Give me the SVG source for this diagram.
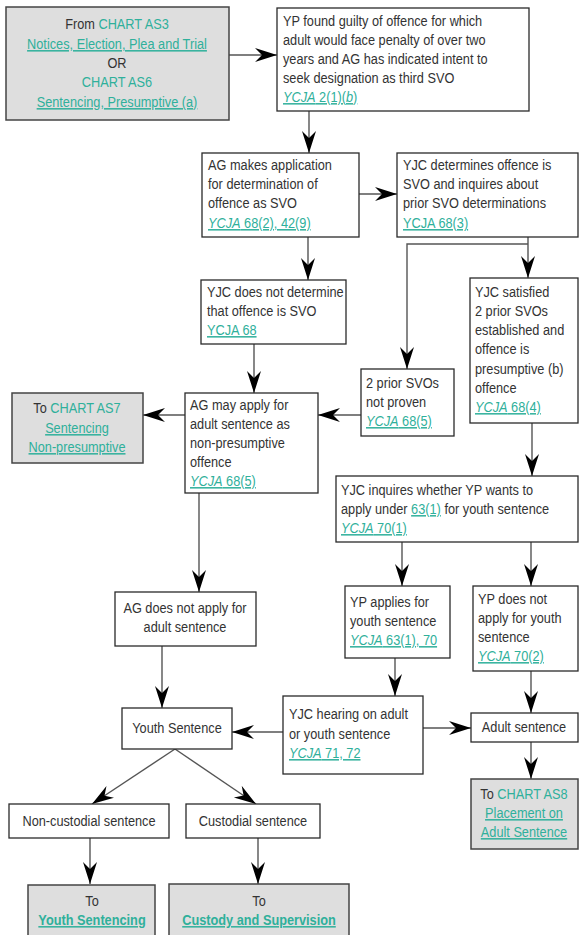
<svg xmlns="http://www.w3.org/2000/svg" width="581" height="935" viewBox="0 0 581 935">
<style>
text{font-family:"Liberation Sans",Arial,sans-serif;font-size:15px;fill:#333;}
.c{text-anchor:middle;}
.l{fill:#2fb09b;}
.u{fill:#2fb09b;text-decoration:underline;}
.i{font-style:italic;}
.b{font-weight:bold;}
.box{fill:#fff;stroke:#2a2a2a;stroke-width:1.3;}
.gbox{fill:#dedede;stroke:#444;stroke-width:1.5;}
.con path{fill:none;stroke:#555;stroke-width:1.4;marker-end:url(#ah);}
</style>
<defs>
<marker id="ah" markerUnits="userSpaceOnUse" markerWidth="24" markerHeight="16" refX="22" refY="7" orient="auto">
<path d="M22,7 L0,0 L7,7 L0,14 Z" fill="#000"/>
</marker>
</defs>
<rect width="581" height="935" fill="#fff"/>
<g class="con">
<path d="M229,55 H277"/>
<path d="M309,111 V153"/>
<path d="M359,194 H397"/>
<path d="M308,237 V280"/>
<path d="M528,237 V278"/>
<path d="M528,244 H407 V369"/>
<path d="M254,344 V393"/>
<path d="M185,415 H143"/>
<path d="M361,415 H318"/>
<path d="M532,423 V476"/>
<path d="M199,493 V592"/>
<path d="M402,542 V586"/>
<path d="M531,542 V586"/>
<path d="M162,646 V708"/>
<path d="M395,658 V696"/>
<path d="M531,671 V713"/>
<path d="M283,732 H232"/>
<path d="M423,728 H471"/>
<path d="M531,742 V779"/>
<path d="M175,749 L92,804"/>
<path d="M175,749 L256,804"/>
<path d="M90,838 V884"/>
<path d="M258,838 V884"/>
</g>
<g id="from-as3">
<rect class="gbox" x="6" y="7" width="223" height="113"/>
<g transform="translate(117 0) scale(.85 1)">
<text class="c" x="0" y="29">From <tspan class="l">CHART AS3</tspan></text>
<text class="c" x="0" y="49"><tspan class="u">Notices, Election, Plea and Trial</tspan></text>
<text class="c" x="0" y="68">OR</text>
<text class="c" x="0" y="87"><tspan class="l">CHART AS6</tspan></text>
<text class="c" x="0" y="107"><tspan class="u">Sentencing, Presumptive (a)</tspan></text>
</g>
</g>
<g id="yp-found-guilty">
<rect class="box" x="277" y="8" width="252" height="103"/>
<g transform="translate(283 0) scale(.85 1)">
<text x="0" y="26">YP found guilty of offence for which</text>
<text x="0" y="45">adult would face penalty of over two</text>
<text x="0" y="64">years and AG has indicated intent to</text>
<text x="0" y="83">seek designation as third SVO</text>
<text x="0" y="102"><tspan class="u"><tspan class="i">YCJA</tspan> 2(1)(<tspan class="i">b</tspan>)</tspan></text>
</g>
</g>
<g id="ag-makes-application">
<rect class="box" x="202" y="153" width="157" height="84"/>
<g transform="translate(208 0) scale(.85 1)">
<text x="0" y="170">AG makes application</text>
<text x="0" y="189">for determination of</text>
<text x="0" y="208">offence as SVO</text>
<text x="0" y="228"><tspan class="u"><tspan class="i">YCJA</tspan> 68(2), 42(9)</tspan></text>
</g>
</g>
<g id="yjc-determines">
<rect class="box" x="397" y="153" width="181" height="84"/>
<g transform="translate(403 0) scale(.85 1)">
<text x="0" y="170">YJC determines offence is</text>
<text x="0" y="189">SVO and inquires about</text>
<text x="0" y="208">prior SVO determinations</text>
<text x="0" y="228"><tspan class="u">YCJA 68(3)</tspan></text>
</g>
</g>
<g id="yjc-does-not-determine">
<rect class="box" x="201" y="280" width="145" height="64"/>
<g transform="translate(207 0) scale(.85 1)">
<text x="0" y="297">YJC does not determine</text>
<text x="0" y="316">that offence is SVO</text>
<text x="0" y="335"><tspan class="u">YCJA 68</tspan></text>
</g>
</g>
<g id="to-as7">
<rect class="gbox" x="12" y="393" width="131" height="70"/>
<g transform="translate(77 0) scale(.85 1)">
<text class="c" x="0" y="413">To <tspan class="l">CHART AS7</tspan></text>
<text class="c" x="0" y="433"><tspan class="u">Sentencing</tspan></text>
<text class="c" x="0" y="452"><tspan class="u">Non-presumptive</tspan></text>
</g>
</g>
<g id="ag-may-apply">
<rect class="box" x="185" y="393" width="133" height="100"/>
<g transform="translate(190 0) scale(.85 1)">
<text x="0" y="410">AG may apply for</text>
<text x="0" y="429">adult sentence as</text>
<text x="0" y="448">non-presumptive</text>
<text x="0" y="467">offence</text>
<text x="0" y="486"><tspan class="u"><tspan class="i">YCJA</tspan> 68(5)</tspan></text>
</g>
</g>
<g id="prior-svos-not-proven">
<rect class="box" x="361" y="369" width="93" height="67"/>
<g transform="translate(366 0) scale(.85 1)">
<text x="0" y="388">2 prior SVOs</text>
<text x="0" y="407">not proven</text>
<text x="0" y="426"><tspan class="u"><tspan class="i">YCJA</tspan> 68(5)</tspan></text>
</g>
</g>
<g id="yjc-satisfied">
<rect class="box" x="470" y="278" width="108" height="145"/>
<g transform="translate(475 0) scale(.85 1)">
<text x="0" y="297">YJC satisfied</text>
<text x="0" y="316">2 prior SVOs</text>
<text x="0" y="335">established and</text>
<text x="0" y="354">offence is</text>
<text x="0" y="374">presumptive (b)</text>
<text x="0" y="393">offence</text>
<text x="0" y="412"><tspan class="u"><tspan class="i">YCJA</tspan> 68(4)</tspan></text>
</g>
</g>
<g id="yjc-inquires">
<rect class="box" x="336" y="476" width="242" height="66"/>
<g transform="translate(341 0) scale(.85 1)">
<text x="0" y="495">YJC inquires whether YP wants to</text>
<text x="0" y="514">apply under <tspan class="u">63(1)</tspan> for youth sentence</text>
<text x="0" y="533"><tspan class="u"><tspan class="i">YCJA</tspan> 70(1)</tspan></text>
</g>
</g>
<g id="ag-does-not-apply">
<rect class="box" x="115" y="592" width="141" height="54"/>
<g transform="translate(185 0) scale(.85 1)">
<text class="c" x="0" y="613">AG does not apply for</text>
<text class="c" x="0" y="632">adult sentence</text>
</g>
</g>
<g id="yp-applies">
<rect class="box" x="345" y="586" width="105" height="72"/>
<g transform="translate(350 0) scale(.85 1)">
<text x="0" y="607">YP applies for</text>
<text x="0" y="626">youth sentence</text>
<text x="0" y="645"><tspan class="u"><tspan class="i">YCJA</tspan> 63(1), 70</tspan></text>
</g>
</g>
<g id="yp-does-not-apply">
<rect class="box" x="473" y="586" width="105" height="85"/>
<g transform="translate(478 0) scale(.85 1)">
<text x="0" y="604">YP does not</text>
<text x="0" y="623">apply for youth</text>
<text x="0" y="642">sentence</text>
<text x="0" y="661"><tspan class="u"><tspan class="i">YCJA</tspan> 70(2)</tspan></text>
</g>
</g>
<g id="yjc-hearing">
<rect class="box" x="283" y="696" width="140" height="78"/>
<g transform="translate(289 0) scale(.85 1)">
<text x="0" y="719">YJC hearing on adult</text>
<text x="0" y="739">or youth sentence</text>
<text x="0" y="758"><tspan class="u"><tspan class="i">YCJA</tspan>  71, 72</tspan></text>
</g>
</g>
<g id="youth-sentence">
<rect class="box" x="122" y="708" width="110" height="41"/>
<g transform="translate(177 0) scale(.85 1)">
<text class="c" x="0" y="733">Youth Sentence</text>
</g>
</g>
<g id="adult-sentence">
<rect class="box" x="471" y="713" width="107" height="29"/>
<g transform="translate(524 0) scale(.85 1)">
<text class="c" x="0" y="732">Adult sentence</text>
</g>
</g>
<g id="to-as8">
<rect class="gbox" x="471" y="779" width="107" height="70"/>
<g transform="translate(524 0) scale(.85 1)">
<text class="c" x="0" y="799">To <tspan class="l">CHART AS8</tspan></text>
<text class="c" x="0" y="818"><tspan class="u">Placement on</tspan></text>
<text class="c" x="0" y="837"><tspan class="u">Adult Sentence</tspan></text>
</g>
</g>
<g id="non-custodial">
<rect class="box" x="9" y="804" width="160" height="34"/>
<g transform="translate(89 0) scale(.85 1)">
<text class="c" x="0" y="826">Non-custodial sentence</text>
</g>
</g>
<g id="custodial">
<rect class="box" x="186" y="804" width="134" height="34"/>
<g transform="translate(253 0) scale(.85 1)">
<text class="c" x="0" y="826">Custodial sentence</text>
</g>
</g>
<g id="to-youth-sentencing">
<rect class="gbox" x="28" y="885" width="127" height="60"/>
<g transform="translate(92 0) scale(.85 1)">
<text class="c" x="0" y="906">To</text>
<text class="c b" x="0" y="925"><tspan class="u">Youth Sentencing</tspan></text>
</g>
</g>
<g id="to-custody">
<rect class="gbox" x="169" y="884" width="180" height="61"/>
<g transform="translate(259 0) scale(.85 1)">
<text class="c" x="0" y="906">To</text>
<text class="c b" x="0" y="925"><tspan class="u">Custody and Supervision</tspan></text>
</g>
</g>
</svg>
